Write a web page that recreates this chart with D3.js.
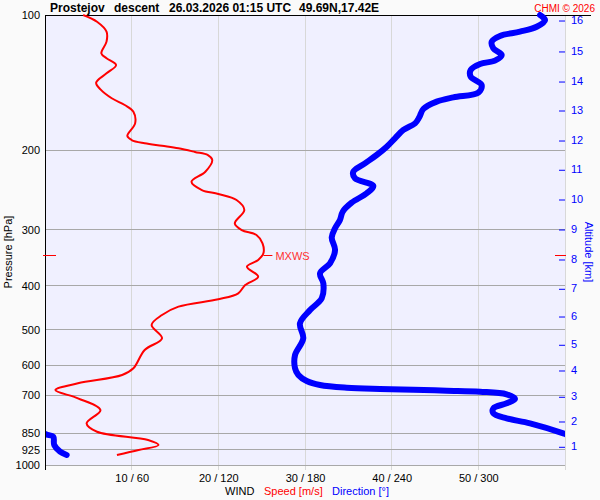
<!DOCTYPE html>
<html><head><meta charset="utf-8">
<script src="https://cdn.jsdelivr.net/npm/d3@7"></script>
<style>
html,body{margin:0;padding:0;background:#fafafa;}
svg{display:block;font-family:"Liberation Sans",Arial,sans-serif;}
</style></head>
<body>
<svg id="c" width="600" height="500"></svg>
<script>
// ---- data ----
const titleParts = ["Prostejov", "descent", "26.03.2026 01:15 UTC", "49.69N,17.42E"];
const pressureTicks = [100, 200, 300, 400, 500, 600, 700, 850, 925, 1000];
const speedTicks = [10, 20, 30, 40, 50];
const altitudeKm = [1, 2, 3, 4, 5, 6, 7, 8, 9, 10, 11, 12, 13, 14, 15, 16];
const altitudePressure = [908.8, 798.4, 703.6, 615.0, 539.2, 466.6, 404.9, 348.5, 298.9, 256.4, 220.2, 189.6, 162.6, 140.2, 120.2, 102.6];

const speedPressure = [100, 103.5, 108.9, 114.6, 121.7, 124.8, 129.2, 134.8, 141.4, 146.3, 153.1, 158.5, 164.0, 174.1, 185.7, 189.6, 192.8, 195.3, 197.8, 201.5, 204.8, 210.0, 223.0, 234.7, 244.9, 249.9, 257.7, 271.2, 290.4, 300.5, 308.2, 321.6, 338.5, 350.3, 362.5, 381.6, 398.1, 415.4, 428.3, 444.8, 464.2, 488.5, 522.9, 555.2, 609.7, 631.0, 658.4, 681.3, 710.9, 754.8, 808.0, 843.4, 880.0, 902.8, 926.2, 950.2];
const speed = [4.4, 6.0, 7.1, 7.1, 6.5, 7.1, 8.2, 7.1, 5.9, 6.4, 7.7, 9.2, 10.2, 10.4, 9.5, 10.0, 11.5, 13.5, 15.4, 17.3, 18.8, 19.3, 18.5, 16.9, 18.1, 20.0, 22.1, 23.0, 21.9, 22.7, 24.4, 25.1, 25.2, 24.6, 23.3, 24.6, 23.1, 22.3, 20.0, 15.4, 13.5, 12.3, 13.5, 11.5, 10.2, 8.9, 3.8, 1.2, 3.8, 6.4, 4.8, 6.0, 11.9, 13.1, 10.8, 8.3];

const dirPressure = [100, 102.6, 106.2, 108.9, 111.3, 114.6, 118.6, 122.7, 126.3, 128.5, 132.5, 137.1, 143.1, 148.8, 152.4, 155.8, 161.8, 168.8, 174.1, 180.1, 187.9, 196.2, 204.7, 213.6, 223.0, 230.6, 239.9, 249.0, 261.3, 273.6, 285.5, 297.8, 312.2, 332.9, 356.3, 375.0, 394.7, 426.2, 452.5, 484.3, 522.9, 569.6, 609.7, 631.0, 650.6, 664.1, 673.4, 677.7, 680.3, 683.7, 687.3, 696.5, 713.4, 729.3, 748.3, 767.6, 787.5, 808.0, 850.3, 856.0, 865.2, 902.8, 934.4, 950.2];
const direction = [342.7, 346.2, 340.4, 328.8, 315.0, 309.3, 310.4, 316.2, 311.5, 301.2, 294.7, 294.7, 302.3, 300.0, 282.7, 271.2, 261.9, 259.1, 256.2, 248.1, 242.3, 236.6, 229.6, 221.5, 213.4, 214.6, 227.3, 222.7, 212.3, 206.1, 204.2, 200.8, 198.5, 200.8, 197.3, 190.4, 192.7, 191.6, 183.5, 176.5, 178.8, 173.1, 173.1, 175.4, 181.2, 190.4, 208.9, 231.9, 255.0, 278.1, 301.2, 319.6, 325.4, 319.6, 310.4, 310.4, 319.6, 335.8, 358.8, 1.2, 5.7, 6.4, 10.4, 15.0];

const maxWindPressure = 341.5;
const maxWindSpeed = 25.2;

// ---- drawing ----
const svg = d3.select("#c");
const L = 45, R = 565, T = 15, B = 465;
const x = d3.scaleLinear().domain([0, 60]).range([L, R]);
const xDir = d3.scaleLinear().domain([0, 360]).range([L, R]);
const y = d3.scaleLog().domain([100, 1000]).range([T, B]);

svg.append("rect").attr("width", 600).attr("height", 500).attr("fill", "#fafafa");
svg.append("rect").attr("x", L).attr("y", T).attr("width", R - L).attr("height", B - T).attr("fill", "#f0f0ff");

// vertical grid
svg.append("g").selectAll("line").data(speedTicks.concat([60])).join("line")
  .attr("x1", d => x(d)).attr("x2", d => x(d)).attr("y1", T).attr("y2", 470)
  .attr("stroke", "#d8d8d8").attr("stroke-width", 1).attr("shape-rendering", "crispEdges");
// horizontal grid
svg.append("g").selectAll("line").data(pressureTicks.slice(1)).join("line")
  .attr("x1", L).attr("x2", R).attr("y1", d => y(d)).attr("y2", d => y(d))
  .attr("stroke", "#a8a8a8").attr("stroke-width", 1).attr("shape-rendering", "crispEdges");

// left axis labels
const ax = svg.append("g").attr("transform", `translate(${L},0)`)
  .call(d3.axisLeft(y).tickValues(pressureTicks).tickFormat(d3.format("d")).tickSize(0).tickPadding(5));
ax.select(".domain").remove();
ax.selectAll("text").attr("font-size", 11).attr("fill", "#000").attr("font-family", "Liberation Sans, Arial, sans-serif");

// bottom axis labels
const bx = svg.append("g").attr("transform", `translate(0,${B})`)
  .call(d3.axisBottom(x).tickValues(speedTicks).tickFormat(d => `${d} / ${d * 6}`).tickSize(0).tickPadding(9));
bx.select(".domain").remove();
bx.selectAll("text").attr("font-size", 11).attr("fill", "#000").attr("font-family", "Liberation Sans, Arial, sans-serif");

// right altitude axis
const altScale = d3.scaleLog().domain([100, 1000]).range([T, B]);
const rx = svg.append("g").attr("transform", `translate(559,0)`)
  .call(d3.axisRight(altScale).tickValues(altitudePressure)
    .tickFormat((d, i) => altitudeKm[i]).tickSize(6).tickPadding(6));
rx.select(".domain").remove();
rx.selectAll("line").attr("stroke", "#0000ff").attr("transform", "translate(0,0.5)");
rx.selectAll("text").attr("font-size", 11).attr("fill", "#0000ff").attr("font-family", "Liberation Sans, Arial, sans-serif");

// axes lines
svg.append("line").attr("x1", L + 0.5).attr("x2", L + 0.5).attr("y1", T).attr("y2", 470).attr("stroke", "#000");
svg.append("line").attr("x1", L).attr("x2", 591).attr("y1", T + 0.5).attr("y2", T + 0.5).attr("stroke", "#000");

// clip
svg.append("clipPath").attr("id", "clip").append("rect").attr("x", L + 1).attr("y", 8).attr("width", R - L - 1).attr("height", 460);

// direction line (unwrap then draw with shifted copies)
const dirPts = [];
let prev = null, off = 0;
direction.forEach((d, i) => {
  if (prev !== null) {
    if (d - prev < -180) off += 360;
    else if (d - prev > 180) off -= 360;
  }
  prev = d;
  dirPts.push([dirPressure[i], d + off]);
});
const dirLine = d3.line().x(d => xDir(d[1])).y(d => y(d[0])).curve(d3.curveCatmullRom.alpha(0.5));
const dg = svg.append("g").attr("clip-path", "url(#clip)");
[0, -360, 360].forEach(s => {
  dg.append("path").datum(dirPts.map(p => [p[0], p[1] + s]))
    .attr("d", dirLine).attr("fill", "none").attr("stroke", "#0000ff")
    .attr("stroke-width", 6).attr("stroke-linejoin", "round").attr("stroke-linecap", "round");
});

// speed line
const spLine = d3.line().x((d, i) => x(d)).y((d, i) => y(speedPressure[i])).curve(d3.curveCatmullRom.alpha(0.5));
svg.append("path").datum(speed).attr("d", spLine).attr("fill", "none")
  .attr("stroke", "#ff0000").attr("stroke-width", 2).attr("stroke-linejoin", "round");

// MXWS markers
const my = Math.round(y(maxWindPressure)) + 0.5;
svg.append("line").attr("x1", 43).attr("x2", 56).attr("y1", my).attr("y2", my).attr("stroke", "#ff0000");
svg.append("line").attr("x1", 555).attr("x2", 566).attr("y1", my).attr("y2", my).attr("stroke", "#ff0000");
svg.append("line").attr("x1", x(maxWindSpeed)).attr("x2", x(maxWindSpeed) + 9).attr("y1", my).attr("y2", my).attr("stroke", "#ff0000");
svg.append("text").attr("x", x(maxWindSpeed) + 12).attr("y", my + 4).attr("font-size", 11)
  .attr("fill", "#ff3030").text("MXWS");

// title
const titleX = [50, 114, 169, 299];
svg.append("g").selectAll("text").data(titleParts).join("text")
  .attr("x", (d, i) => titleX[i]).attr("y", 12).attr("font-size", 12).attr("font-weight", "bold")
  .attr("fill", "#000").text(d => d);
svg.append("text").attr("x", 595).attr("y", 12).attr("text-anchor", "end").attr("font-size", 10)
  .attr("fill", "#ff0000").text("CHMI © 2026");

// axis titles
svg.append("text").attr("transform", "translate(12,252) rotate(-90)").attr("text-anchor", "middle")
  .attr("font-size", 11).attr("fill", "#000").text("Pressure [hPa]");
svg.append("text").attr("transform", "translate(585,252) rotate(90)").attr("text-anchor", "middle")
  .attr("font-size", 11).attr("fill", "#0000ff").text("Altitude [km]");
svg.append("text").attr("x", 225).attr("y", 495).attr("font-size", 11).attr("fill", "#000").text("WIND");
svg.append("text").attr("x", 264).attr("y", 495).attr("font-size", 11).attr("fill", "#ff0000").text("Speed [m/s]");
svg.append("text").attr("x", 332).attr("y", 495).attr("font-size", 11).attr("fill", "#0000ff").text("Direction [°]");
</script>
</body></html>
